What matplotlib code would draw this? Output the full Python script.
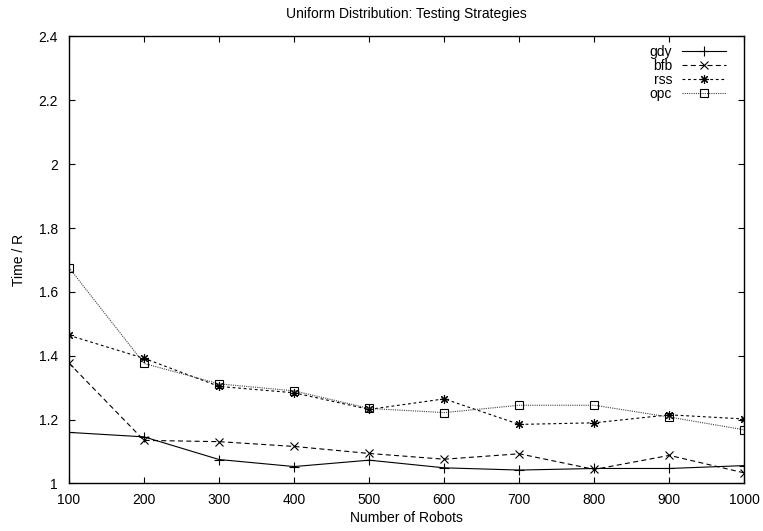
import matplotlib
matplotlib.use('Agg')
import matplotlib.pyplot as plt
from matplotlib.ticker import FormatStrFormatter

plt.rcParams['font.family'] = ['Liberation Sans', 'DejaVu Sans']

robots = [100, 200, 300, 400, 500, 600, 700, 800, 900, 1000]
gdy = [1.160, 1.146, 1.075, 1.053, 1.073, 1.049, 1.042, 1.047, 1.047, 1.056]
bfb = [1.377, 1.135, 1.131, 1.116, 1.094, 1.076, 1.093, 1.044, 1.088, 1.033]
rss = [1.464, 1.392, 1.304, 1.284, 1.232, 1.265, 1.185, 1.190, 1.215, 1.202]
opc = [1.676, 1.376, 1.312, 1.290, 1.235, 1.222, 1.245, 1.245, 1.208, 1.168]
yticks = [1, 1.2, 1.4, 1.6, 1.8, 2, 2.2, 2.4]

fs = 10
fig = plt.figure(figsize=(7.63, 5.31), dpi=100)
ax = fig.add_axes([0.0904, 0.0895, 0.8853, 0.8418])

lw = 0.8
ax.plot(robots, gdy, color='black', lw=lw, ls='-', marker='+', ms=7, mew=0.8, label='gdy')
ax.plot(robots, bfb, color='black', lw=lw, ls=(0, (4.5, 3)), marker='x', ms=5.5, mew=0.8, label='bfb')
ax.plot(robots, rss, color='black', lw=lw, ls=(0, (2.5, 2.5)), marker=(8, 2, 0), ms=6.5, mew=0.8, label='rss')
ax.plot(robots, opc, color='#444444', lw=lw, ls=(0, (1, 1)), marker='s', ms=5.5, mew=0.8,
        mfc='none', mec='black', label='opc')

ax.set_xlim(100, 1000)
ax.set_ylim(1, 2.4)
ax.set_xticks(robots)
ax.set_yticks(yticks)
ax.yaxis.set_major_formatter(FormatStrFormatter('%g'))
ax.tick_params(direction='in', length=4.5, width=0.8, top=True, right=True,
               labelsize=fs)
ax.tick_params(axis='y', pad=8)
ax.tick_params(axis='x', pad=7)
for s in ax.spines.values():
    s.set_linewidth(1.0)

ax.set_xlabel('Number of Robots', fontsize=fs, labelpad=3)
ax.set_ylabel('Time / R', fontsize=fs, labelpad=9)
ax.set_title('Uniform Distribution: Testing Strategies', fontsize=fs, pad=13)

ax.legend(loc='upper right', frameon=False, markerfirst=False, fontsize=fs,
          handlelength=3.2, handletextpad=0.7, labelspacing=0.02,
          borderaxespad=0, borderpad=0, bbox_to_anchor=(0.973, 0.982))

fig.savefig('out.png', dpi=100)
